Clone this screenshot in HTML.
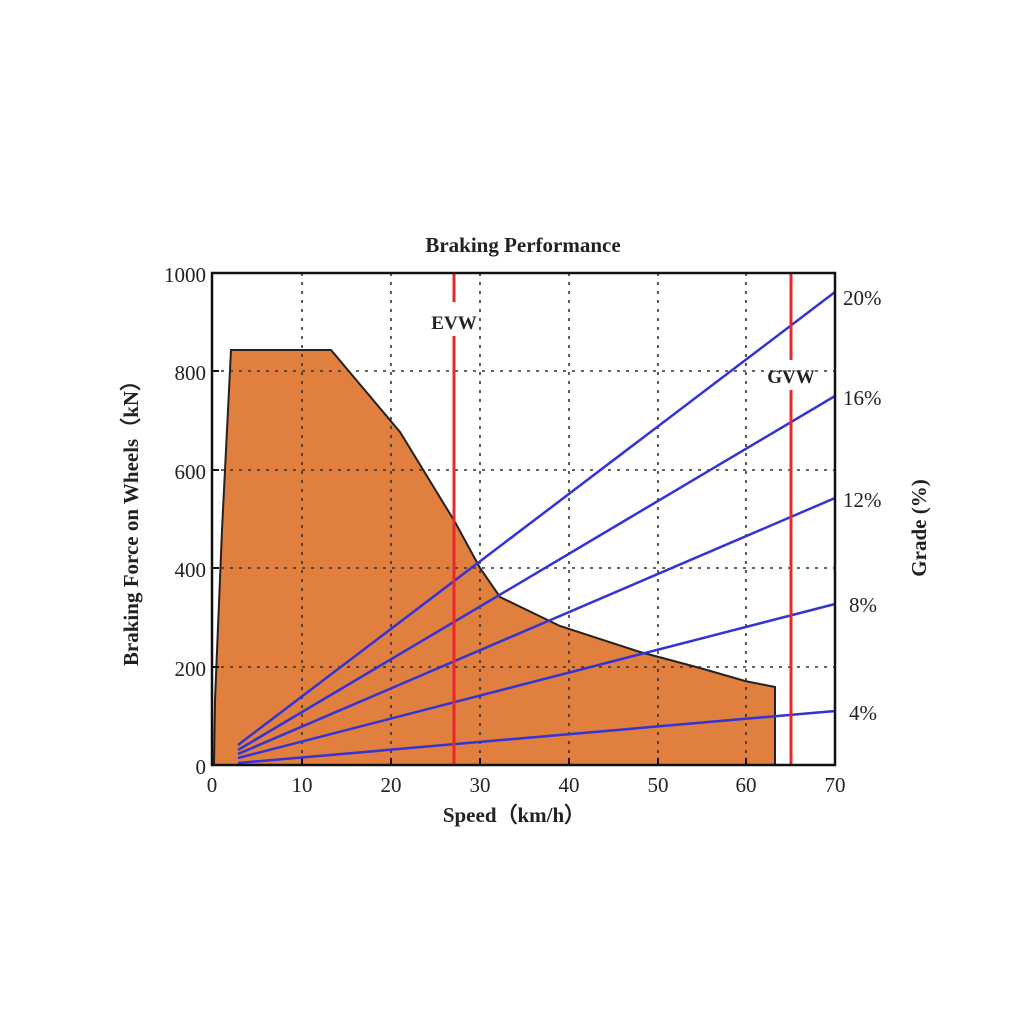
<!DOCTYPE html>
<html><head><style>body{margin:0;background:#fff}</style></head><body>
<svg width="1024" height="1024" xmlns="http://www.w3.org/2000/svg" font-family="Liberation Serif, serif">
<rect width="1024" height="1024" fill="#fff"/>
<polygon points="214,765 215,700 222,530 231,350 331,350 400,432 455,522 480,568 500,597 560,626 640,652 700,668 745,681 775,687 775,765" fill="#e07f3e" stroke="#222" stroke-width="2"/>
<g stroke="#333" stroke-width="1.6" stroke-dasharray="3,6">
<line x1="302" y1="273" x2="302" y2="765"/><line x1="391" y1="273" x2="391" y2="765"/><line x1="480" y1="273" x2="480" y2="765"/><line x1="569" y1="273" x2="569" y2="765"/><line x1="658" y1="273" x2="658" y2="765"/><line x1="746" y1="273" x2="746" y2="765"/>
<line x1="212" y1="371" x2="835" y2="371"/><line x1="212" y1="470" x2="835" y2="470"/><line x1="212" y1="568" x2="835" y2="568"/><line x1="212" y1="667" x2="835" y2="667"/>
</g>
<g stroke="#111" stroke-width="2">
<line x1="302" y1="765" x2="302" y2="758"/><line x1="391" y1="765" x2="391" y2="758"/><line x1="480" y1="765" x2="480" y2="758"/><line x1="569" y1="765" x2="569" y2="758"/><line x1="658" y1="765" x2="658" y2="758"/><line x1="746" y1="765" x2="746" y2="758"/>
<line x1="212" y1="371" x2="219" y2="371"/><line x1="212" y1="470" x2="219" y2="470"/><line x1="212" y1="568" x2="219" y2="568"/><line x1="212" y1="667" x2="219" y2="667"/>
</g>
<g stroke="#3333d6" stroke-width="2.5" fill="none">
<line x1="238" y1="745" x2="835" y2="292"/><line x1="238" y1="750" x2="835" y2="396"/><line x1="238" y1="754" x2="835" y2="498"/><line x1="238" y1="758" x2="835" y2="604"/><line x1="238" y1="763" x2="835" y2="711"/>
</g>
<g stroke="#e8282a" stroke-width="3">
<line x1="454" y1="273" x2="454" y2="302"/><line x1="454" y1="336" x2="454" y2="765"/>
<line x1="791" y1="273" x2="791" y2="360"/><line x1="791" y1="390" x2="791" y2="765"/>
</g>
<text x="454" y="329" font-size="19" font-weight="bold" text-anchor="middle" fill="#222">EVW</text>
<text x="791" y="383" font-size="19" font-weight="bold" text-anchor="middle" fill="#222">GVW</text>
<rect x="212" y="273" width="623" height="492" fill="none" stroke="#111" stroke-width="2.5"/>
<text x="523" y="252" font-size="21" font-weight="bold" text-anchor="middle" fill="#222">Braking Performance</text>
<g font-size="21" fill="#222" text-anchor="end">
<text x="206" y="282">1000</text><text x="206" y="380">800</text><text x="206" y="479">600</text><text x="206" y="577">400</text><text x="206" y="676">200</text><text x="206" y="774">0</text>
</g>
<g font-size="21" fill="#222" text-anchor="middle">
<text x="212" y="792">0</text><text x="302" y="792">10</text><text x="391" y="792">20</text><text x="480" y="792">30</text><text x="569" y="792">40</text><text x="658" y="792">50</text><text x="746" y="792">60</text><text x="835" y="792">70</text>
</g>
<g font-size="21" fill="#222">
<text x="843" y="305">20%</text><text x="843" y="405">16%</text><text x="843" y="507">12%</text><text x="849" y="612">8%</text><text x="849" y="720">4%</text>
</g>
<text x="514" y="822" font-size="21" font-weight="bold" text-anchor="middle" fill="#222">Speed（km/h）</text>
<text transform="translate(138,518) rotate(-90)" font-size="21" font-weight="bold" text-anchor="middle" fill="#222">Braking Force on Wheels（kN）</text>
<text transform="translate(926,528) rotate(-90)" font-size="21" font-weight="bold" text-anchor="middle" fill="#222">Grade (%)</text>
</svg>
</body></html>
